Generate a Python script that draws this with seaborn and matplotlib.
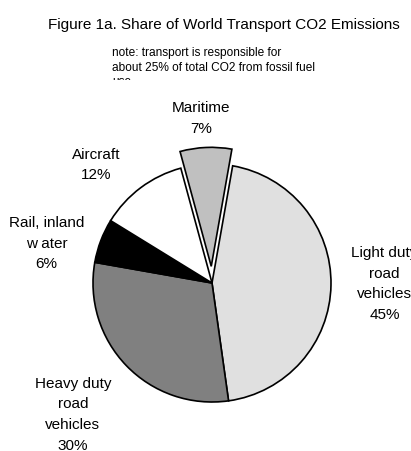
import matplotlib
matplotlib.use("Agg")
import matplotlib.pyplot as plt
import seaborn as sns
from matplotlib.transforms import Bbox, TransformedBbox

sns.set_style("white")
plt.rcParams["font.family"] = ["Liberation Sans", "DejaVu Sans"]

# Shares of world transport CO2 emissions (%)
categories = ["Light duty\nroad\nvehicles", "Heavy duty\nroad\nvehicles",
              "Rail, inland\nw ater", "Aircraft", "Maritime"]
shares = [45, 30, 6, 12, 7]
colors = ["#e0e0e0", "#808080", "#000000", "#ffffff", "#c0c0c0"]
explode = [0, 0, 0, 0, 0.14]
# label anchor points, in pie-radius units from the centre
label_pos = [(1.45, 0.0), (-1.17, -1.10), (-1.39, 0.34), (-0.97, 1.00), (-0.09, 1.39)]

W, H, DPI = 411, 452, 100
fig = plt.figure(figsize=(W / DPI, H / DPI), dpi=DPI)
fig.patch.set_facecolor("white")

# pie centre and radius in pixels
cx, cy, r = 212, 284, 119
lim = 1.8
half = lim * r
ax = fig.add_axes([(cx - half) / W, (H - cy - half) / H, 2 * half / W, 2 * half / H])

ax.pie(shares, colors=colors, explode=explode, startangle=80, counterclock=False,
       radius=1, wedgeprops=dict(edgecolor="black", linewidth=1.2),
       normalize=True)
ax.set_xlim(-lim, lim)
ax.set_ylim(-lim, lim)
ax.set_aspect("equal")
ax.axis("off")

for name, val, (x, y) in zip(categories, shares, label_pos):
    ax.text(x, y, f"{name}\n{val}%", ha="center", va="center", multialignment="center",
            fontsize=11, linespacing=1.62, color="#000000")

fig.text(224 / W, 1 - 25 / H, "Figure 1a. Share of World Transport CO2 Emissions",
         ha="center", va="center", fontsize=11, color="#000000")

note = fig.text(112 / W, 1 - 47 / H,
                "note: transport is responsible for\nabout 25% of total CO2 from fossil fuel\nuse",
                ha="left", va="top", fontsize=8.6, linespacing=1.3, color="#000000")
clip = TransformedBbox(Bbox([[0, 1 - 81 / H], [1, 1]]), fig.transFigure)
note.set_clip_box(clip)
note.set_clip_on(True)

fig.savefig("out.png", dpi=DPI)
